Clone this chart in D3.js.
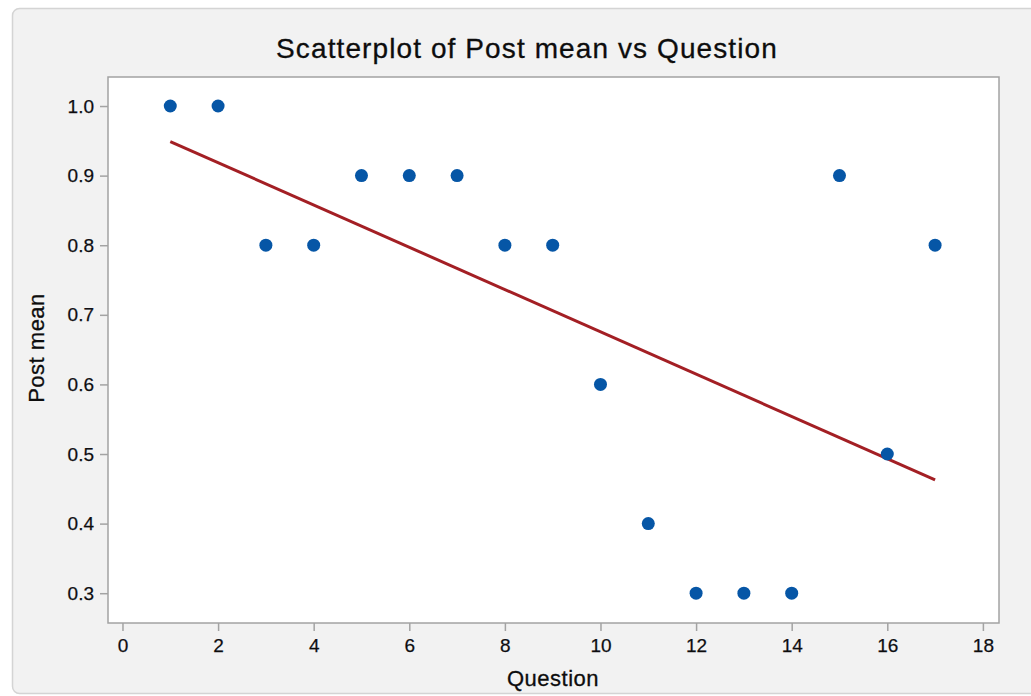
<!DOCTYPE html>
<html>
<head>
<meta charset="utf-8">
<script src="https://cdn.jsdelivr.net/npm/d3@7"></script>
<style>
  html, body { margin: 0; padding: 0; background: #ffffff; }
  svg { display: block; }
  text { font-family: "Liberation Sans", Arial, Helvetica, sans-serif; fill: #0d0d0d; }
</style>
</head>
<body>
<div id="chart"></div>
<script>
// Scatterplot of Post mean vs Question, with fitted regression line

const questions = [1, 2, 3, 4, 5, 6, 7, 8, 9, 10, 11, 12, 13, 14, 15, 16, 17];
const postMean = [1.0, 1.0, 0.8, 0.8, 0.9, 0.9, 0.9, 0.8, 0.8, 0.6, 0.4, 0.3, 0.3, 0.3, 0.9, 0.5, 0.8];
const xTicks = [0, 2, 4, 6, 8, 10, 12, 14, 16, 18];
const yTicks = [0.3, 0.4, 0.5, 0.6, 0.7, 0.8, 0.9, 1.0];

const W = 1031, H = 696;
const plot = { left: 108, top: 77, right: 999, bottom: 623 };

const svg = d3.select('#chart').append('svg')
    .attr('width', W)
    .attr('height', H);

// outer panel
svg.append('rect')
    .attr('x', 12.5).attr('y', 8.5)
    .attr('width', 1060).attr('height', 685)
    .attr('rx', 7)
    .attr('fill', '#f2f2f2')
    .attr('stroke', '#d4d4d4')
    .attr('stroke-width', 1.5);

const x = d3.scaleLinear().domain([-0.303, 18.337]).range([plot.left, plot.right]);
const y = d3.scaleLinear().domain([0.2572, 1.0417]).range([plot.bottom, plot.top]);

// plot area
svg.append('rect')
    .attr('x', plot.left).attr('y', plot.top)
    .attr('width', plot.right - plot.left)
    .attr('height', plot.bottom - plot.top)
    .attr('fill', '#ffffff')
    .attr('stroke', '#a3a3a3')
    .attr('stroke-width', 1.5);

// axes
const yAxis = svg.append('g')
    .attr('transform', `translate(${plot.left},0)`)
    .call(d3.axisLeft(y).tickValues(yTicks).tickFormat(d3.format('.1f')).tickSize(8).tickPadding(6));

const xAxis = svg.append('g')
    .attr('transform', `translate(0,${plot.bottom})`)
    .call(d3.axisBottom(x).tickValues(xTicks).tickSize(8).tickPadding(8));

[xAxis, yAxis].forEach(g => {
    g.select('.domain').remove();
    g.selectAll('.tick line').attr('stroke', '#a3a3a3').attr('stroke-width', 1.5);
    g.selectAll('.tick text')
        .attr('font-size', '19px')
        .attr('font-family', '"Liberation Sans", Arial, sans-serif')
        .attr('fill', '#161628')
        .attr('stroke', '#161628')
        .attr('stroke-width', 0.25);
});

// least squares fit
const mx = d3.mean(questions), my = d3.mean(postMean);
const sxy = d3.sum(questions, (q, i) => (q - mx) * (postMean[i] - my));
const sxx = d3.sum(questions, q => (q - mx) * (q - mx));
const slope = sxy / sxx, intercept = my - slope * mx;
const xExt = d3.extent(questions);

svg.append('line')
    .attr('x1', x(xExt[0])).attr('y1', y(intercept + slope * xExt[0]))
    .attr('x2', x(xExt[1])).attr('y2', y(intercept + slope * xExt[1]))
    .attr('stroke', '#a31f24')
    .attr('stroke-width', 3);

// points
svg.append('g').selectAll('circle')
    .data(questions)
    .join('circle')
    .attr('cx', d => x(d))
    .attr('cy', (d, i) => y(postMean[i]))
    .attr('r', 6.5)
    .attr('fill', '#0656a6');

// title and axis labels
const labels = svg.append('g')
    .attr('stroke', '#0d0d0d')
    .attr('stroke-width', 0.3);

labels.append('text')
    .attr('x', 527).attr('y', 58)
    .attr('text-anchor', 'middle')
    .attr('font-size', '28px')
    .attr('letter-spacing', '1.1px')
    .text('Scatterplot of Post mean vs Question');

labels.append('text')
    .attr('x', 553).attr('y', 686)
    .attr('text-anchor', 'middle')
    .attr('font-size', '22px')
    .attr('letter-spacing', '0.5px')
    .text('Question');

labels.append('text')
    .attr('transform', 'translate(44,348) rotate(-90)')
    .attr('text-anchor', 'middle')
    .attr('font-size', '22px')
    .attr('letter-spacing', '0.5px')
    .text('Post mean');
</script>
</body>
</html>
